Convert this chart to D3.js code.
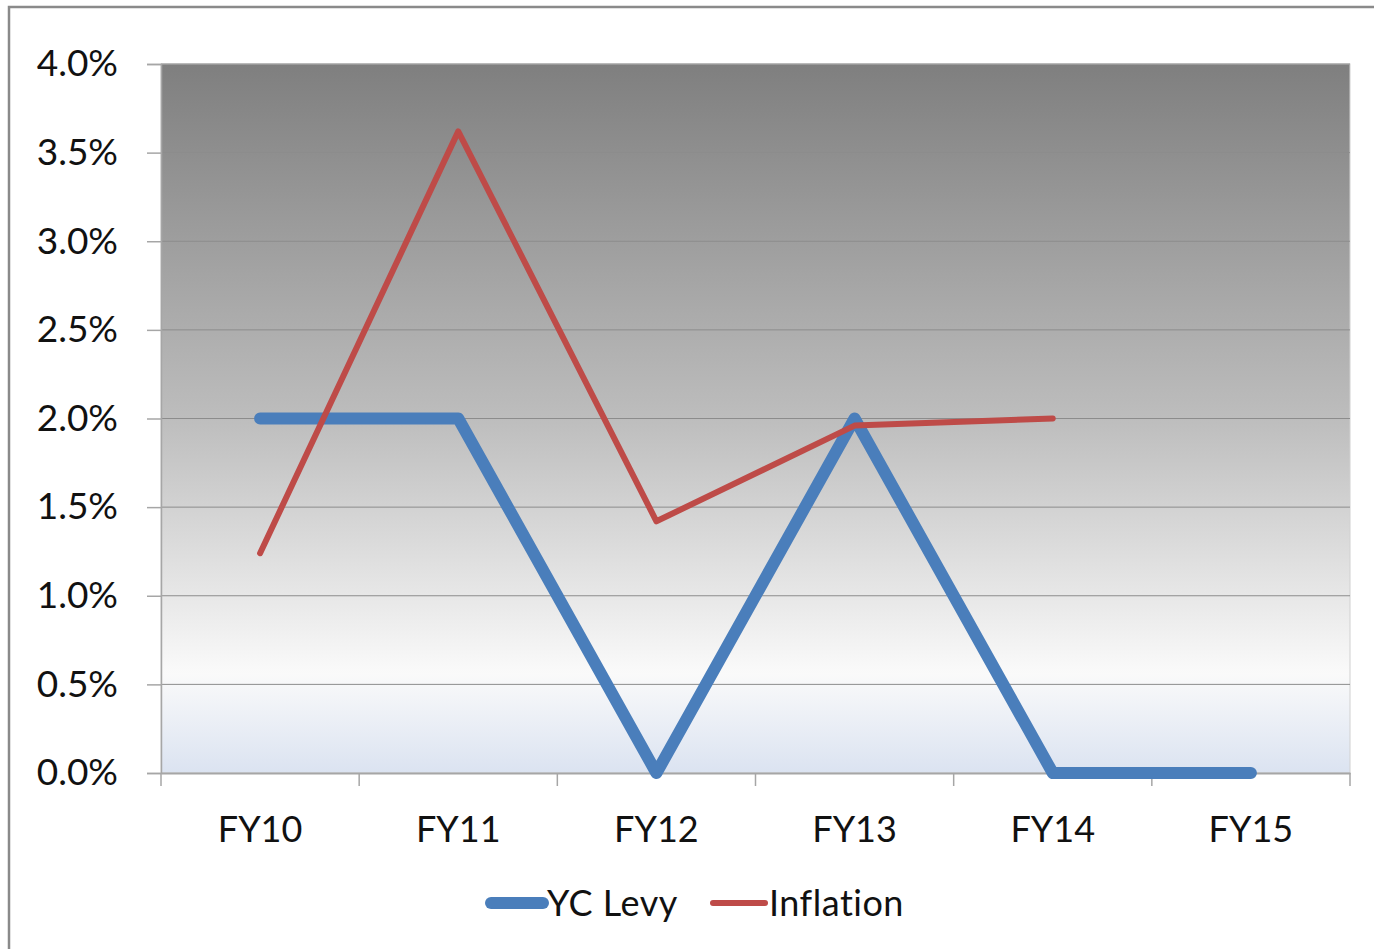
<!DOCTYPE html>
<html><head><meta charset="utf-8">
<script src="https://cdn.jsdelivr.net/npm/d3@7"></script>
<style>
html,body{margin:0;padding:0;background:#fff;}
svg{display:block;font-family:Lato,"Open Sans",sans-serif;font-variant-ligatures:none;}
</style></head>
<body>
<svg id="chart" width="1374" height="949"></svg>
<script>
const categories = ["FY10","FY11","FY12","FY13","FY14","FY15"];
const ycLevy = [2.0, 2.0, 0.0, 2.0, 0.0, 0.0];
const inflation = [1.24, 3.62, 1.42, 1.96, 2.0, null];
const yTicks = [0,0.5,1,1.5,2,2.5,3,3.5,4];
const seriesNames = ["YC Levy","Inflation"];
const seriesColors = ["#4a7ebb","#be4b48"];

const svg = d3.select("#chart");
const W = 1374, H = 949;
const m = {left:161, right:1350, top:64, bottom:773};

// outer border
svg.append("rect").attr("x",9).attr("y",7).attr("width",W+20).attr("height",H+20)
  .attr("fill","#fff").attr("stroke","#8a8a8a").attr("stroke-width",2.5);

const x = d3.scaleBand().domain(categories).range([m.left,m.right]).padding(0);
const y = d3.scaleLinear().domain([0,4]).range([m.bottom,m.top]);

const defs = svg.append("defs");
const grad = defs.append("linearGradient").attr("id","bg").attr("x1",0).attr("y1",0).attr("x2",0).attr("y2",1);
[[0,"#7f7f7f"],[0.5,"#bdbdbd"],[0.86,"#fafafa"],[1,"#dbe3f1"]].forEach(([o,c])=>
  grad.append("stop").attr("offset",o).attr("stop-color",c));

svg.append("rect").attr("x",m.left).attr("y",m.top).attr("width",m.right-m.left).attr("height",m.bottom-m.top)
  .attr("fill","url(#bg)").attr("stroke","#d0d0d0").attr("stroke-width",1);

// gridlines
svg.append("g").selectAll("line").data(yTicks.filter(t=>t>0)).join("line")
  .attr("x1",m.left).attr("x2",m.right).attr("y1",d=>y(d)).attr("y2",d=>y(d))
  .attr("stroke","#8c8c8c").attr("stroke-width",1);

// y axis
const yAxis = d3.axisLeft(y).tickValues(yTicks).tickFormat(d=>d.toFixed(1)+"%").tickSize(14).tickPadding(29);
const gy = svg.append("g").attr("transform",`translate(${m.left},0)`).call(yAxis);
gy.select(".domain").attr("stroke","#a6a6a6").attr("stroke-width",1.5);
gy.selectAll(".tick line").attr("stroke","#a6a6a6").attr("stroke-width",1.5);
gy.selectAll(".tick text").attr("font-size",37).attr("fill","#111").attr("font-family","Lato");

// x axis
const xAxis = d3.axisBottom(x).tickSize(0).tickPadding(43);
const gx = svg.append("g").attr("transform",`translate(0,${m.bottom})`).call(xAxis);
gx.select(".domain").attr("stroke","#a6a6a6").attr("stroke-width",2);
gx.selectAll(".tick text").attr("font-size",36).attr("fill","#111").attr("font-family","Lato");
const bounds = categories.map(c=>x(c)).concat([x(categories[categories.length-1])+x.bandwidth()]);
svg.append("g").selectAll("line").data(bounds).join("line")
  .attr("x1",d=>d).attr("x2",d=>d).attr("y1",m.bottom).attr("y2",m.bottom+13)
  .attr("stroke","#a6a6a6").attr("stroke-width",1.5);

const cx = c => x(c)+x.bandwidth()/2;
const line = d3.line().defined(d=>d.v!=null).x(d=>cx(d.c)).y(d=>y(d.v));

svg.append("path").datum(categories.map((c,i)=>({c,v:ycLevy[i]})))
  .attr("d",line).attr("fill","none").attr("stroke",seriesColors[0]).attr("stroke-width",12)
  .attr("stroke-linecap","round").attr("stroke-linejoin","round");
svg.append("path").datum(categories.map((c,i)=>({c,v:inflation[i]})))
  .attr("d",line).attr("fill","none").attr("stroke",seriesColors[1]).attr("stroke-width",6)
  .attr("stroke-linecap","round").attr("stroke-linejoin","round");

// legend
const leg = svg.append("g");
const legItems = [
  {name:seriesNames[0],color:seriesColors[0],w:12,x1:491,x2:543,tx:547},
  {name:seriesNames[1],color:seriesColors[1],w:6,x1:713,x2:765,tx:769}
];
legItems.forEach(it=>{
  leg.append("line").attr("x1",it.x1).attr("x2",it.x2).attr("y1",903).attr("y2",903)
    .attr("stroke",it.color).attr("stroke-width",it.w).attr("stroke-linecap","round");
  leg.append("text").attr("x",it.tx).attr("y",903).attr("dy","0.35em").attr("font-size",36)
    .attr("fill","#111").attr("font-family","Lato").attr("letter-spacing",0.5).text(it.name);
});
</script>
</body></html>
